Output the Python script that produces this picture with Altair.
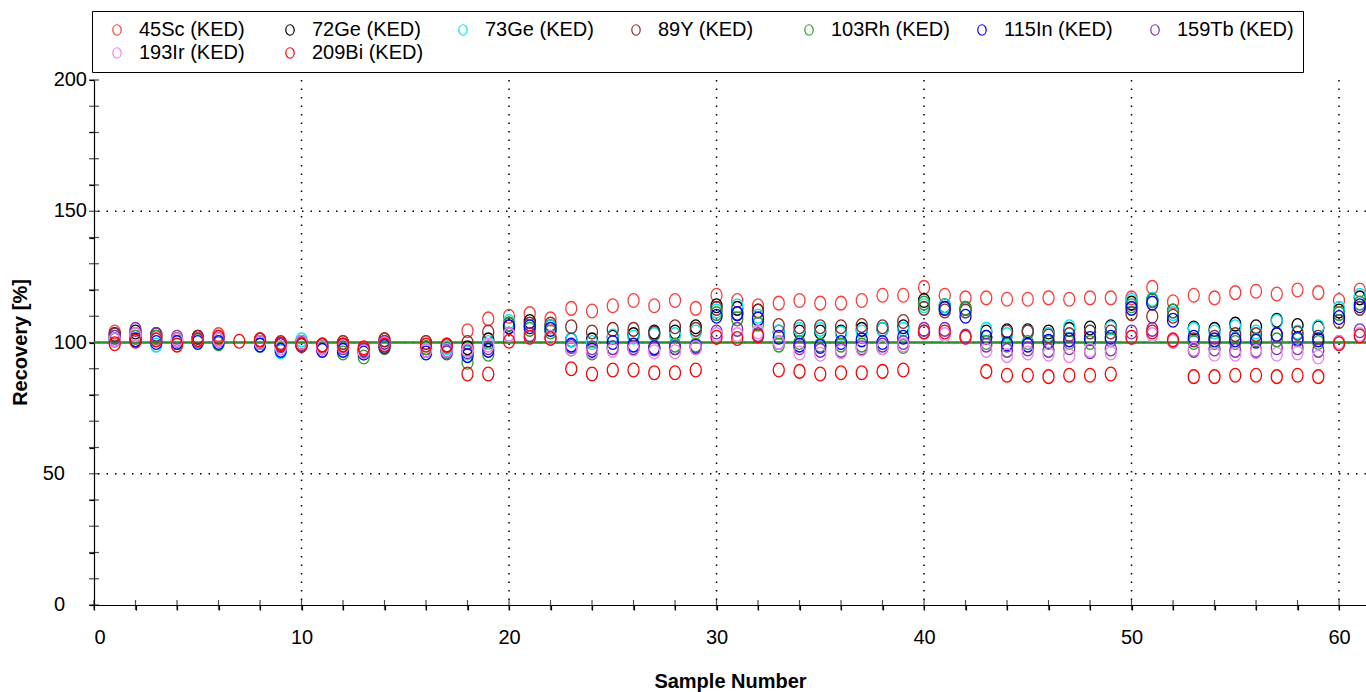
import altair as alt
import pandas as pd

samples = list(range(1, 62))
N = None

sc45 = [104, 102, 102, 101, 102, 103, N, 100, 99, 100, 99, 100, 97.5, 101, N, 100, 98.5, 104.5, 109, 110,
        111, 109, 113, 112, 114, 116, 114, 116, 113, 118, 116, 114, 115, 116, 115, 115, 116, 118, 118, 121,
        118, 117, 117, 116.5, 116.5, 117, 116.5, 117, 117, 117, 121, 115.5, 118, 117, 119, 119.5, 118.5, 120, 119, 116,
        120]
ge72 = [103, 104, 103, 101, 102, 101, N, 100, 99, 100, 98, 99, 97, 100, N, 98, 97, 98, 101, 107,
        108, 106, 101, 101, 102, 103, 104, 104, 106, 114, 113, 112, 104, 104, 104, 104, 105, 105, 106, 116,
        114, 113, 104, 104.5, 104.5, 104, 105, 105.5, 106, 115, 116, 112, 105.5, 105, 107, 106, 108.5, 106.5, 105.5, 112,
        117]
ge73 = [101, 101, 99, 100, 100.5, 100, N, 99, 96.5, 101, 98, 98, 96, 99, N, 97, 98, 96, 100, 108,
        106, 106, 101, 100, 102.5, 102, 103, 103, 104, 112, 114, 110, 104, 105, 105, 103.5, 104, 105, 105, 114,
        114, 112, 105, 103, 104, 103, 106, 104, 105.5, 116, 116.5, 111, 105, 104, 106, 104, 108, 104, 106, 113,
        118]
y89 = [103, 103, 102, 101, 102, 102, N, 101, 100, 100, 99, 100, 97, 101, N, 100, 99, 100, 104, 106,
       107, 107, 106, 104, 105, 105, 103.5, 106, 105, 113, 111, 112, 106.5, 106, 106, 106, 106.5, 106, 108, 113,
       112, 112, 102, 104, 104, 102.5, 103, 104, 104, 111, 110, 110, 101, 102, 103, 103, 103, 103.5, 102, 108,
       113]
rh103 = [102, 102, 102, 100, 101, 99.5, N, 100, 98, 99, 98, 96, 94.5, 98, N, 98, 96.5, 92.5, 95.5, 107,
         105, 104, 97.5, 96, 98, 98, 98, 99, 99, 111, 109, 107, 99, 100, 99, 99, 99, 98, 98.5, 115,
         113, 113, 100, 99, 100, 100, 100, 100, 101, 114, 116, 112, 100, 100, 100, 101, 101, 101, 100, 111,
         115]
in115 = [101, 101, 100, 100, 100, 100, N, 99, 97, 99, 97, 97, 96, 98.5, N, 96, 97, 95, 97, 106,
         106, 105, 99, 97, 100, 99, 98, 98, 98.5, 110, 111, 109, 102, 99, 98.5, 100, 101, 100, 102, 104,
         113, 110, 102, 99.5, 99, 100.5, 101, 101.5, 102, 113, 115, 108.5, 102, 101, 101, 100.5, 103, 101.5, 101, 109.5,
         114]
tb159 = [102, 105, 103, 102, 101, 101, N, 100, 99, 99.5, 98, 98, 97, 100, N, 97, 96, 96.5, 98, 103,
         103, 102, 98.5, 98, 98, 98, 97.5, 98, 98, 104, 105, 103, 100, 98, 97, 97, 98, 99, 100, 105,
         105, 102.5, 99, 97, 97.5, 97, 98, 96.5, 97.5, 104, 105, 100.5, 97, 97.5, 97, 97, 98, 98, 97, 100,
         104.5]
ir193 = [101, 103, 101, 101, 101, 101, N, 100, 98, 100, 98, 98.5, 96.5, 99.5, N, 97, 97, 97, 99, 103,
         102, 102, 97.5, 96.5, 97, 97.5, 96.5, 96.5, 98, 103, 103, 104, 100, 96, 95.5, 96.5, 97.5, 98, 99, 104,
         103, 102, 97, 95, 96, 95.5, 95, 97, 96, 102, 103, 100.5, 97.5, 95.5, 95.5, 96.5, 95.5, 96, 94.5, 100,
         103]
bi209 = [99.5, 100.5, 101, 99, 101, 102, 100.5, 101, 99.5, 99, 99, 99, 98, 99, N, 99, 99, 88, 88, 100.5,
         102, 101.5, 90, 88, 89.5, 89.5, 88.5, 88.5, 89.5, 102, 101.5, 102.5, 89.5, 89, 88, 88.5, 88.5, 89, 89.5, 104,
         104, 102, 89, 87.5, 87.5, 87, 87.5, 87.5, 88, 102, 104, 101, 87, 87, 87.5, 87.5, 87, 87.5, 87, 99.5,
         102.5]

series_names = ["45Sc (KED)", "72Ge (KED)", "73Ge (KED)", "89Y (KED)", "103Rh (KED)",
                "115In (KED)", "159Tb (KED)", "193Ir (KED)", "209Bi (KED)"]
series_colors = ["#ff3b3b", "#000000", "#00e5ee", "#8b2a2a", "#2e9a2e",
                 "#0000ff", "#7a30b0", "#ee82ee", "#ff0000"]
series_values = [sc45, ge72, ge73, y89, rh103, in115, tb159, ir193, bi209]

x_grid = [10, 20, 30, 40, 50, 60]
y_grid = [50, 100, 150]
target = [100]
x_ticks = list(range(0, 62, 2))
y_ticks = list(range(0, 201, 10))
y_labels_wide = [100, 150, 200]
y_labels_narrow = [0, 50]

rows = []
for name, vals in zip(series_names, series_values):
    for s, v in zip(samples, vals):
        if v is not None:
            rows.append({"Sample": s, "Series": name, "Recovery": v})
df = pd.DataFrame(rows)

FONT = "Liberation Sans, Arial, sans-serif"
ELLIPSE = "M-0.8,0A0.8,1,0,1,1,0.8,0A0.8,1,0,1,1,-0.8,0Z"

xscale = alt.Scale(domain=[0, 61.3], nice=False, zero=False)
yscale = alt.Scale(domain=[0, 200], nice=False)

xaxis = alt.Axis(values=x_ticks,
                 labelExpr="datum.value % 10 == 0 ? datum.label : ''",
                 tickSize=5, labelPadding=33, labelBaseline="alphabetic", labelOverlap=False,
                 titleY=82, titleBaseline="alphabetic")
yaxis = alt.Axis(values=y_ticks, labels=False, tickSize=5,
                 titleX=-68, titleY=262, titleBaseline="alphabetic", titleAngle=-90)
XT = "Sample Number"
YT = "Recovery [%]"

xgrid = alt.Chart(pd.DataFrame({"Sample": x_grid})).mark_rule(
    color="black", strokeDash=[1.5, 7], strokeWidth=1.5
).encode(x=alt.X("Sample:Q", scale=xscale, axis=xaxis, title=XT))

ygrid = alt.Chart(pd.DataFrame({"Recovery": y_grid})).mark_rule(
    color="black", strokeDash=[1.5, 7], strokeWidth=1.5
).encode(y=alt.Y("Recovery:Q", scale=yscale, axis=yaxis, title=YT))

# tick marks crossing the axis lines (inner halves)
xcross = alt.Chart(pd.DataFrame({"Sample": x_ticks})).mark_tick(
    color="black", size=10, thickness=1.2, orient="vertical"
).encode(x=alt.X("Sample:Q", scale=xscale, axis=xaxis, title=XT),
         y=alt.datum(0, scale=yscale))

ycross = alt.Chart(pd.DataFrame({"Recovery": y_ticks})).mark_tick(
    color="black", size=10, thickness=1.2, orient="horizontal"
).encode(y=alt.Y("Recovery:Q", scale=yscale, axis=yaxis, title=YT),
         x=alt.datum(0, scale=xscale))

# y tick labels
ylab_wide = alt.Chart(pd.DataFrame({"Recovery": y_labels_wide})).mark_text(
    align="right", baseline="middle", dx=-7, font=FONT, fontSize=20, color="black"
).encode(y=alt.Y("Recovery:Q", scale=yscale, axis=yaxis, title=YT),
         x=alt.datum(0, scale=xscale), text="Recovery:Q")

ylab_narrow = alt.Chart(pd.DataFrame({"Recovery": y_labels_narrow})).mark_text(
    align="right", baseline="middle", dx=-29, font=FONT, fontSize=20, color="black"
).encode(y=alt.Y("Recovery:Q", scale=yscale, axis=yaxis, title=YT),
         x=alt.datum(0, scale=xscale), text="Recovery:Q")

tline = alt.Chart(pd.DataFrame({"Recovery": target})).mark_rule(
    color="#2e8b2e", strokeWidth=2.5
).encode(y=alt.Y("Recovery:Q", scale=yscale, axis=yaxis, title=YT))

points = alt.Chart(df).mark_point(
    shape=ELLIPSE, filled=False, size=190, strokeWidth=1.3, opacity=1
).encode(
    x=alt.X("Sample:Q", scale=xscale, axis=xaxis, title=XT),
    y=alt.Y("Recovery:Q", scale=yscale, axis=yaxis, title=YT),
    color=alt.Color("Series:N", sort=series_names,
                    scale=alt.Scale(domain=series_names, range=series_colors),
                    legend=alt.Legend(title=None, orient="none", legendX=-2, legendY=-69,
                                      direction="horizontal", columns=7, gridAlign="all",
                                      symbolType=ELLIPSE, symbolSize=110, symbolStrokeWidth=1.2,
                                      symbolFillColor="white", symbolOffset=6,
                                      labelFont=FONT, labelFontSize=20, labelColor="black",
                                      labelOffset=12, columnPadding=16, rowPadding=3,
                                      padding=9, fillColor="white", strokeColor="black")),
)

chart = alt.layer(xgrid, ygrid, xcross, ycross, ylab_wide, ylab_narrow, tline, points).properties(
    width=1272, height=525,
    autosize=alt.AutoSizeParams(type="none"),
    padding={"left": 94, "top": 80, "right": 0, "bottom": 87},
).configure_view(stroke=None).configure_axis(
    labelFont=FONT, titleFont=FONT, labelFontSize=20, titleFontSize=20,
    titleFontWeight="bold", labelColor="black", titleColor="black",
    domainColor="black", tickColor="black", grid=False, domainWidth=1.2, tickWidth=1.2
)

chart.save("out.html", embed_options={"renderer": "svg", "actions": False})
